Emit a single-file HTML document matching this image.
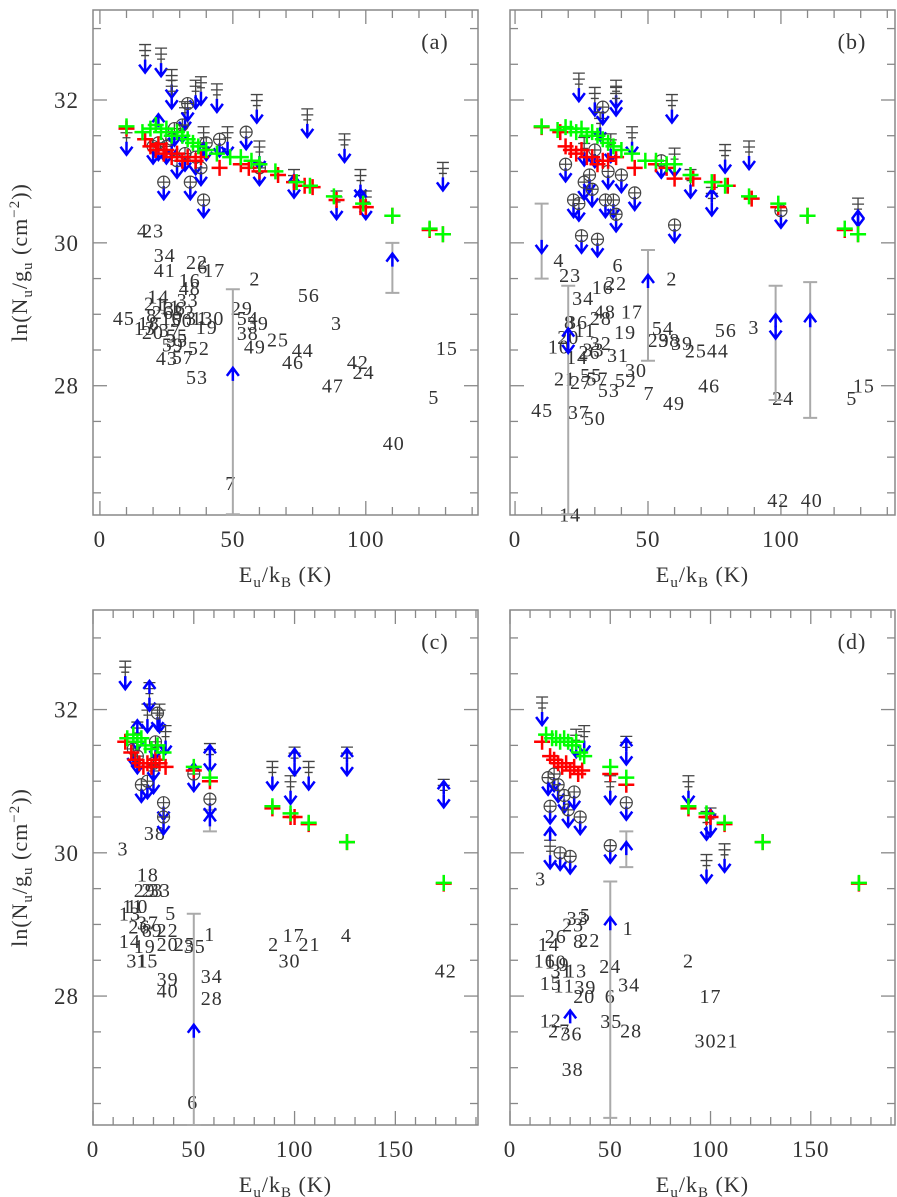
<!DOCTYPE html>
<html><head><meta charset="utf-8"><style>
body{margin:0;background:#fff}
svg{display:block}
text{font-family:"Liberation Serif",serif;fill:#333;letter-spacing:1px}
</style></head><body>
<svg id="chart" width="897" height="1197" viewBox="0 0 897 1197" xmlns="http://www.w3.org/2000/svg"></svg>
<script>
// ---------- data: panel (a) ----------
const redA=[[10,31.6],[17,31.45],[19,31.35],[21,31.3],[22,31.38],[24,31.25],[25,31.3],[27,31.2],[29,31.25],[31,31.15],[33,31.2],[36,31.15],[38,31.2],[45,31.05],[53,31.1],[56,31.05],[60,31.0],[67,30.95],[73,30.85],[77,30.8],[80,30.78],[89,30.6],[98,30.5],[100,30.5],[110,30.38],[124,30.18],[129,30.12]];
const greenA=[[10,31.63],[16,31.55],[19,31.6],[21,31.65],[23,31.55],[25,31.6],[27,31.5],[29,31.55],[31,31.5],[33,31.45],[35,31.4],[37,31.35],[40,31.3],[44,31.25],[49,31.2],[53,31.2],[57,31.15],[60,31.1],[66,31.0],[74,30.85],[79,30.8],[88,30.65],[99,30.55],[110,30.38],[124,30.2],[129,30.12]];
const circA=[[20,31.35],[22,31.4],[24,30.85],[25,31.35],[27,31.45],[28,31.6],[29,31.15],[31,31.65],[32,31.25],[33,31.95],[34,30.85],[36,31.2],[38,31.05],[39,30.6],[40,31.4],[45,31.45],[55,31.55],[60,31.05]];
const limA=[[17,32.65],[23,32.6],[27,32.3],[27,32.15],[36,32.15],[38,32.2],[44,32.1],[59,31.95],[78,31.75],[92,31.4],[129,31.0],[10,31.5],[60,31.3],[73,30.9],[89,30.6],[98,30.9],[100,30.6],[39,31.5],[32,31.85],[48,31.5]];
const errA=[[50,26.2,29.35],[110,29.3,30.0]];
const upA=[[50,28.25],[110,29.85],[22,31.8],[39,31.4],[73,30.95],[98,30.75]];
const labA=[[16,30.17,"4"],[20,30.17,"23"],[24.4,29.83,"34"],[24.4,29.62,"41"],[36.5,29.73,"22"],[38.7,29.67,"6"],[43,29.62,"17"],[33.8,29.48,"16"],[33.8,29.37,"48"],[58.3,29.5,"2"],[78.6,29.27,"56"],[22,29.25,"14"],[20.7,29.15,"21"],[33,29.2,"33"],[9,28.95,"45"],[89,28.88,"3"],[53.4,29.09,"29"],[55.6,28.95,"54"],[59.4,28.88,"39"],[40.6,28.95,"130"],[40.2,28.82,"19"],[19.5,28.99,"8"],[23.7,29.03,"26"],[26.3,29.11,"11"],[28.2,29.09,"36"],[31.6,29.03,"32"],[27,28.95,"10"],[30.8,28.92,"50"],[36.5,28.95,"31"],[18.4,28.88,"18"],[16.9,28.81,"13"],[19.9,28.75,"20"],[26.3,28.78,"37"],[29,28.7,"55"],[29,28.64,"35"],[27.4,28.58,"59"],[55.6,28.74,"38"],[67,28.65,"25"],[58.3,28.55,"49"],[76.3,28.5,"44"],[72.6,28.33,"46"],[37.2,28.53,"52"],[25.2,28.39,"43"],[31.2,28.4,"57"],[36.5,28.12,"53"],[97,28.33,"42"],[99.2,28.19,"24"],[87.6,28.0,"47"],[130.5,28.53,"15"],[125.6,27.84,"5"],[110.5,27.2,"40"],[49.2,26.64,"7"]];

// ---------- data: panel (b) ----------
const redB=[[10,31.62],[17,31.55],[19,31.35],[21,31.3],[23,31.25],[25,31.3],[27,31.2],[29,31.2],[31,31.1],[33,31.15],[35,31.15],[38,31.2],[45,31.05],[53,31.1],[57,31.05],[60,30.9],[67,30.9],[75,30.85],[80,30.8],[89,30.62],[99,30.5],[110,30.38],[124,30.18],[129,30.12]];
const greenB=[[10,31.63],[16,31.58],[19,31.62],[21,31.6],[23,31.55],[25,31.6],[27,31.5],[29,31.55],[31,31.5],[33,31.45],[35,31.4],[37,31.35],[40,31.3],[44,31.25],[49,31.15],[53,31.15],[57,31.1],[60,31.1],[66,30.95],[74,30.85],[79,30.8],[88,30.65],[99,30.55],[110,30.38],[124,30.2],[129,30.12]];
const circB=[[19,31.1],[22,30.6],[24,30.55],[25,30.1],[26,30.85],[28,30.95],[29,30.75],[30,31.3],[31,30.05],[33,31.9],[34,30.6],[35,31.0],[37,30.6],[38,30.4],[40,30.95],[45,30.7],[55,31.15],[60,30.25],[100,30.45]];
const limB=[[24,32.25],[30,32.05],[32,31.7],[38,32.15],[38,32.05],[44,31.5],[59,31.95],[79,31.25],[88,31.3],[129,30.5],[74,30.65],[60,31.2],[66,30.9],[26,31.35],[36,31.4]];
const errB=[[10,29.5,30.55],[20,26.2,29.4],[50,28.35,29.9],[98,27.8,29.4],[111,27.55,29.45]];
const upB=[[20,28.8],[50,29.55],[98,29.0],[111,29.0],[129,30.45],[74,30.75]];
const dnB=[[10,30.0],[20,28.6],[98,28.8]];
const labB=[[16.5,29.76,"4"],[20.7,29.55,"23"],[38.7,29.69,"6"],[33,29.38,"16"],[38,29.44,"22"],[25.6,29.23,"34"],[59,29.5,"2"],[33.8,29.04,"48"],[44,29.04,"17"],[32.3,28.95,"28"],[23.3,28.89,"36"],[20.5,28.89,"8"],[26.3,28.78,"11"],[20,28.68,"20"],[16.5,28.55,"10"],[32.3,28.6,"32"],[41.4,28.75,"19"],[55.6,28.81,"54"],[54,28.64,"29"],[58,28.64,"38"],[62.8,28.6,"39"],[68,28.49,"25"],[76.3,28.49,"44"],[79.3,28.78,"56"],[89.8,28.82,"3"],[23.3,28.4,"14"],[28,28.47,"26"],[29.5,28.51,"33"],[38.7,28.43,"31"],[45.5,28.22,"30"],[18.8,28.1,"21"],[24.8,28.05,"27"],[28.6,28.15,"55"],[31,28.1,"57"],[35.3,27.94,"53"],[41.7,28.08,"52"],[50.4,27.9,"7"],[59.8,27.76,"49"],[73,28.0,"46"],[100.8,27.83,"24"],[131.2,28.0,"15"],[126.7,27.83,"5"],[10.2,27.66,"45"],[24,27.63,"37"],[30,27.55,"50"],[99,26.4,"42"],[111.6,26.4,"40"],[20.7,26.2,"14"]];

// ---------- data: panel (c) ----------
const redC=[[16,31.55],[19,31.4],[21,31.3],[23,31.25],[25,31.2],[27,31.25],[29,31.2],[31,31.3],[33,31.25],[36,31.2],[50,31.15],[58,31.0],[89,30.62],[98,30.5],[100,30.5],[107,30.4],[126,30.15],[174,29.57]];
const greenC=[[17,31.6],[20,31.65],[22,31.55],[24,31.6],[26,31.5],[29,31.45],[32,31.5],[35,31.4],[50,31.2],[58,31.05],[89,30.65],[98,30.55],[107,30.42],[126,30.15],[174,29.58]];
const circC=[[20,31.45],[22,31.35],[24,30.95],[27,31.0],[30,31.25],[31,31.55],[32,31.95],[35,30.7],[35,30.5],[50,31.1],[58,30.75]];
const limC=[[16,32.55],[27,31.95],[28,32.25],[33,31.95],[36,31.65],[58,31.4],[89,31.15],[98,30.95],[100,31.35],[107,31.15],[126,31.35],[174,30.9],[22,31.7],[30,31.1]];
const errC=[[50,26.2,29.15],[58,30.3,30.6]];
const upC=[[50,27.6],[58,30.55],[28,32.4],[100,31.45],[126,31.45],[174,31.0],[22,31.85],[50,31.25],[58,31.5]];
const dnC=[];
const labC=[[30.7,30.28,"38"],[14.9,30.06,"3"],[27.2,29.7,"18"],[25.7,29.48,"29"],[29.5,29.48,"23"],[33.2,29.48,"33"],[19.8,29.26,"11"],[22,29.26,"10"],[18.3,29.15,"13"],[38.6,29.16,"5"],[27.2,29.03,"37"],[23,28.97,"26"],[31.8,28.92,"9"],[37,28.92,"22"],[27,28.92,"8"],[57.9,28.87,"1"],[18.3,28.77,"14"],[25.7,28.7,"19"],[37,28.73,"20"],[45.5,28.73,"25"],[50.5,28.7,"35"],[99.5,28.85,"17"],[107.4,28.73,"21"],[125.7,28.85,"4"],[89.6,28.73,"2"],[97.5,28.5,"30"],[22,28.5,"31"],[27,28.5,"15"],[37,28.24,"39"],[37,28.08,"40"],[58.9,28.28,"34"],[58.9,27.97,"28"],[175,28.36,"42"],[49.5,26.52,"6"]];

// ---------- data: panel (d) ----------
const redD=[[16,31.55],[20,31.35],[22,31.3],[24,31.25],[26,31.2],[28,31.25],[30,31.15],[32,31.2],[34,31.1],[36,31.15],[50,31.1],[58,30.95],[89,30.62],[98,30.5],[100,30.5],[107,30.4],[126,30.15],[174,29.57]];
const greenD=[[18,31.65],[21,31.6],[23,31.6],[25,31.55],[27,31.6],[29,31.55],[31,31.5],[33,31.55],[35,31.4],[37,31.35],[50,31.2],[58,31.05],[89,30.65],[98,30.55],[107,30.42],[126,30.15],[174,29.58]];
const circD=[[19,31.05],[20,30.65],[22,31.1],[24,30.95],[25,30.0],[27,30.8],[29,30.6],[30,29.95],[32,30.85],[35,30.5],[50,30.1],[58,30.7]];
const limD=[[16,32.05],[37,31.65],[58,31.5],[89,30.95],[98,30.45],[100,30.5],[107,30.0],[98,29.85],[20,30.05],[50,30.95],[33,31.6]];
const errD=[[50,26.3,29.6],[58,29.8,30.3]];
const upD=[[50,29.1],[30,27.8],[58,30.15],[58,31.6],[100,30.6],[20,30.35]];
const dnD=[];
const labD=[[15.3,29.64,"3"],[33.7,29.09,"33"],[37.6,29.13,"5"],[31.5,29.0,"23"],[58.9,28.95,"1"],[22.8,28.84,"26"],[19.3,28.73,"14"],[34.2,28.77,"8"],[39.6,28.78,"22"],[17.3,28.5,"16"],[22.8,28.48,"10"],[27,28.45,"9"],[25.7,28.36,"31"],[33,28.36,"13"],[50,28.42,"24"],[89,28.5,"2"],[20.3,28.18,"15"],[27,28.15,"11"],[37.6,28.13,"39"],[37,28.0,"20"],[59.4,28.16,"34"],[50,28.0,"6"],[100,28.0,"17"],[50.5,27.65,"35"],[60.4,27.52,"28"],[20.3,27.66,"12"],[24.5,27.52,"27"],[30.7,27.48,"36"],[97.5,27.38,"30"],[108.4,27.38,"21"],[31.2,26.98,"38"]];

const panels=[
 {id:'a',fr:[93,10,478,515],xr:[-2.6,142.2],yr:[26.19,33.26],xt:[0,50,100],xmin:10,ytl:true,lab:'(a)',red:redA,green:greenA,circ:circA,lim:limA,err:errA,up:upA,dn:[],labs:labA},
 {id:'b',fr:[510,10,895,515],xr:[-1.9,142.9],yr:[26.19,33.26],xt:[0,50,100],xmin:10,ytl:false,lab:'(b)',red:redB,green:greenB,circ:circB,lim:limB,err:errB,up:upB,dn:dnB,labs:labB},
 {id:'c',fr:[93,610,478,1125],xr:[0,191],yr:[26.2,33.39],xt:[0,50,100,150],xmin:10,ytl:true,lab:'(c)',red:redC,green:greenC,circ:circC,lim:limC,err:errC,up:upC,dn:dnC,labs:labC},
 {id:'d',fr:[510,610,895,1125],xr:[0,192],yr:[26.2,33.39],xt:[0,50,100,150],xmin:10,ytl:false,lab:'(d)',red:redD,green:greenD,circ:circD,lim:limD,err:errD,up:upD,dn:dnD,labs:labD}
];
const svg=document.getElementById('chart');
const NS='http://www.w3.org/2000/svg';
function mk(tag,attrs,parent){const e=document.createElementNS(NS,tag);for(const k in attrs)e.setAttribute(k,attrs[k]);(parent||svg).appendChild(e);return e;}
panels.forEach(p=>{
 const [L,T,R,B]=p.fr;
 const g=mk('g',{});
 
 
 const sx=v=>L+(v-p.xr[0])/(p.xr[1]-p.xr[0])*(R-L);
 const sy=v=>B-(v-p.yr[0])/(p.yr[1]-p.yr[0])*(B-T);
 const fr=mk('rect',{x:L,y:T,width:R-L,height:B-T,fill:'none',stroke:'#888','stroke-width':1.5},g);
 
 
 for(let v=0;v<=p.xr[1];v+=p.xmin){
  const X=sx(v);const big=(v%50===0);const len=big?14:8;
  mk('line',{x1:X,y1:B,x2:X,y2:B-len,stroke:'#888','stroke-width':1.3},g);
  mk('line',{x1:X,y1:T,x2:X,y2:T+len,stroke:'#888','stroke-width':1.3},g);
 }
 p.xt.forEach(v=>{const t=mk('text',{x:sx(v),y:B+32,'text-anchor':'middle','font-size':23},g);t.textContent=v;
  });
 for(let v=Math.ceil(p.yr[0]*2)/2;v<=p.yr[1];v+=0.5){
  const Y=sy(v);const big=(Math.abs(v-Math.round(v/2)*2)<1e-6);const len=big?14:8;
  mk('line',{x1:L,y1:Y,x2:L+len,y2:Y,stroke:'#888','stroke-width':1.3},g);
  mk('line',{x1:R,y1:Y,x2:R-len,y2:Y,stroke:'#888','stroke-width':1.3},g);
  if(big&&p.ytl){const t=mk('text',{x:L-14,y:Y+8,'text-anchor':'end','font-size':23},g);t.textContent=Math.round(v);
   }
 }
 const xt=mk('text',{x:(L+R)/2,y:B+67,'text-anchor':'middle','font-size':22},g);
 xt.innerHTML='E<tspan dy="5" font-size="15">u</tspan><tspan dy="-5">/k</tspan><tspan dy="5" font-size="15">B</tspan><tspan dy="-5"> (K)</tspan>';
 
 if(p.ytl){
  const cy=(T+B)/2;
  const yt=mk('text',{x:0,y:0,'text-anchor':'middle','font-size':22,transform:`translate(27,${cy}) rotate(-90)`},g);
  yt.innerHTML='ln(N<tspan dy="5" font-size="15">u</tspan><tspan dy="-5">/g</tspan><tspan dy="5" font-size="15">u</tspan><tspan dy="-5"> (cm</tspan><tspan dy="-8" font-size="15">−2</tspan><tspan dy="8">))</tspan>';
  
 }
 const pl=mk('text',{x:R-43,y:T+39,'text-anchor':'middle','font-size':22},g);pl.textContent=p.lab;
 
 p.labs.forEach(d=>{const t=mk('text',{x:sx(d[0]),y:sy(d[1])+7,'text-anchor':'middle','font-size':20},g);t.textContent=d[2];
  });
 p.err.forEach(d=>{const X=sx(d[0]),y1=sy(d[1]),y2=sy(d[2]);
  const e=mk('path',{d:`M${X},${y1}V${y2}M${X-7},${y1}H${X+7}M${X-7},${y2}H${X+7}`,stroke:'#aaa','stroke-width':2,fill:'none'},g);
  });
 const arrow=(X,Y,dir,name)=>{const s=dir;
  const a=mk('path',{d:`M${X},${Y}V${Y+s*12}M${X-6},${Y+s*5}L${X},${Y+s*13}L${X+6},${Y+s*5}`,stroke:'#00f','stroke-width':2.5,fill:'none'},g);
  };
 p.lim.forEach(d=>{const X=sx(d[0]),Y=sy(d[1]);
  const e=mk('path',{d:`M${X},${Y-9}V${Y+8}M${X-6},${Y-9}H${X+6}M${X-6},${Y-3}H${X+6}M${X-4},${Y+2}H${X+4}`,stroke:'#444','stroke-width':1.3,fill:'none'},g);
  
  arrow(X,Y+6,1,'upper-limit-arrow');});
 p.up.forEach(d=>arrow(sx(d[0]),sy(d[1])+13,-1,'lower-limit-arrow'));
 p.dn.forEach(d=>arrow(sx(d[0]),sy(d[1])-3,1,'upper-limit-arrow'));
 p.circ.forEach(d=>{const X=sx(d[0]),Y=sy(d[1]);
  arrow(X,Y+4,1,'circle-limit-arrow');
  const c=mk('path',{d:`M${X+6},${Y}A6,6 0 1 1 ${X-6},${Y}A6,6 0 1 1 ${X+6},${Y}M${X-6},${Y}H${X+6}M${X},${Y-6}V${Y+6}`,stroke:'#444','stroke-width':1.2,fill:'none'},g);
  });
 const plus=(arr,col,name)=>arr.forEach(d=>{const X=sx(d[0]),Y=sy(d[1]);
  const e=mk('path',{d:`M${X-8},${Y}H${X+8}M${X},${Y-8}V${Y+8}`,stroke:col,'stroke-width':2.5,fill:'none'},g);
  });
 plus(p.red,'#f00','red-point');
 plus(p.green,'#0f0','green-point');
});
</script>
</body></html>
